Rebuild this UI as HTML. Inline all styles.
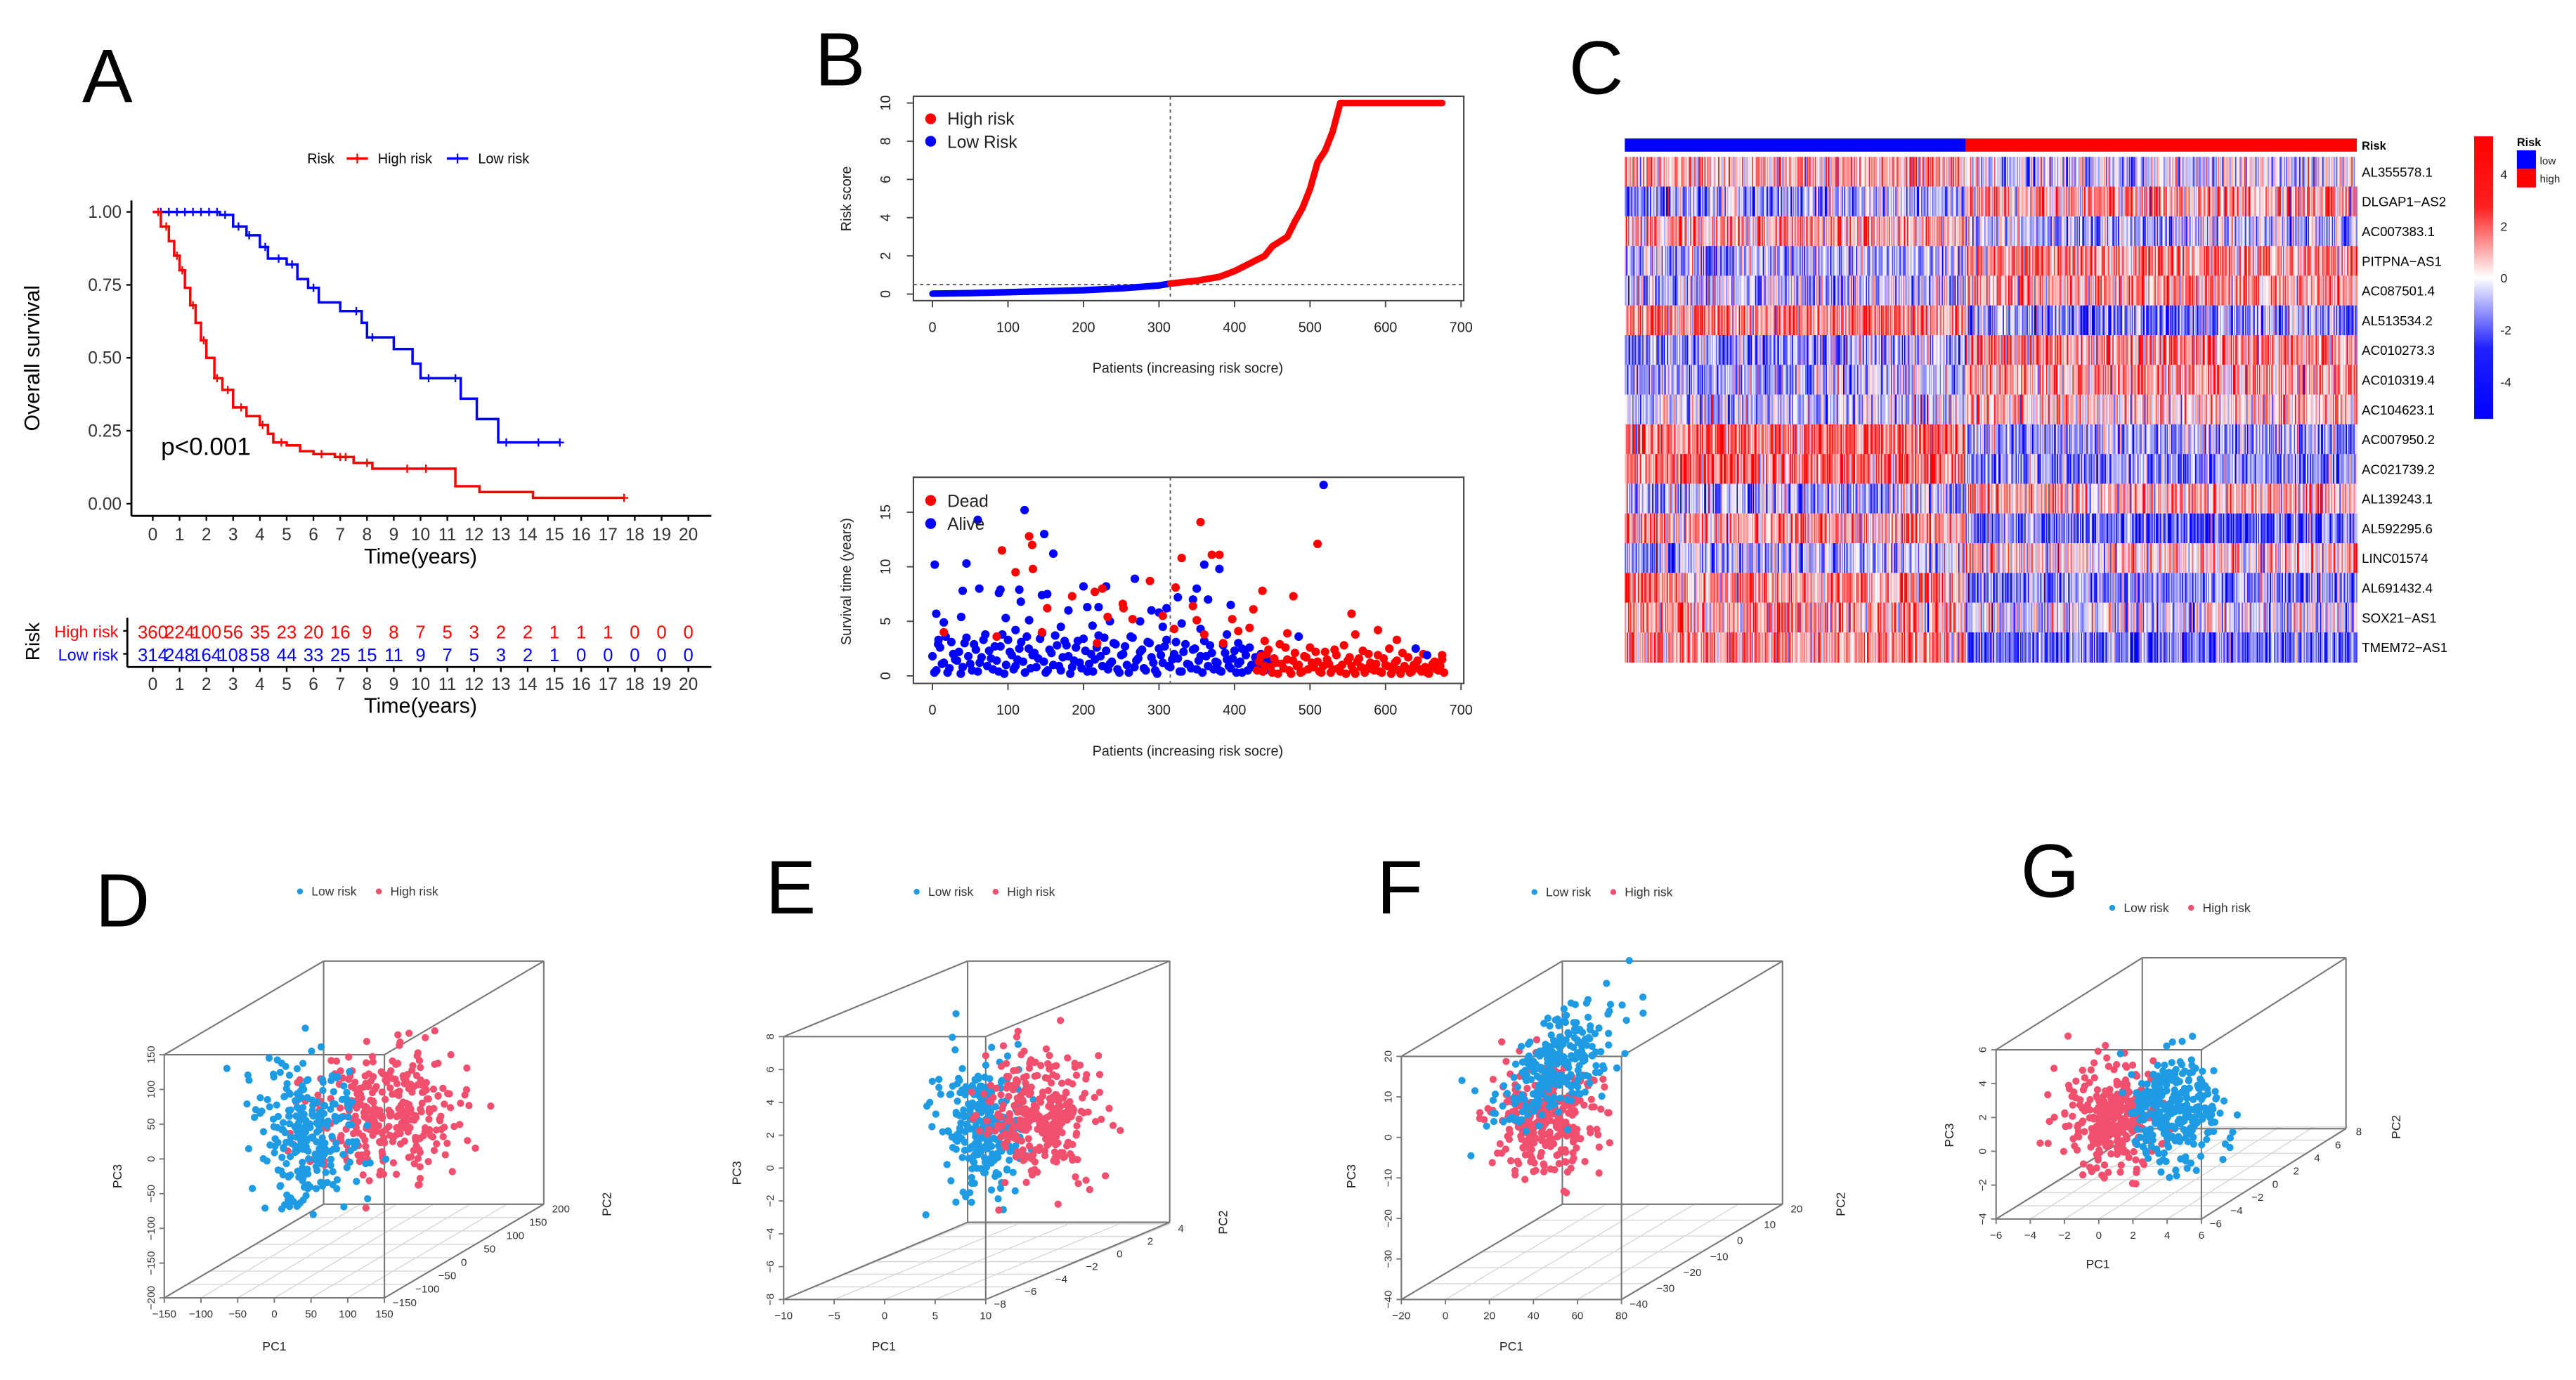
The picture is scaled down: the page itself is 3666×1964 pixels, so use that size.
<!DOCTYPE html>
<html><head><meta charset="utf-8">
<style>
html,body{margin:0;padding:0;background:#fff;}
svg{display:block;font-family:"Liberation Sans",Arial,sans-serif;}
</style></head>
<body>
<svg id="fig" xmlns="http://www.w3.org/2000/svg" width="3666" height="1964" viewBox="0 0 1568 840" preserveAspectRatio="none">
<rect x="0" y="0" width="1568" height="840" fill="#fff"/>
</svg>
<script>
// ---------- DATA ----------
// Panel A: Kaplan-Meier
const kmHighT=[0,0.3,0.6,0.8,1.0,1.2,1.4,1.6,1.8,2.0,2.3,2.6,3.0,3.5,4.0,4.3,4.5,5.0,5.5,6.0,6.8,7.5,8.2,11.1,11.3,12.2,14.2,17.6];
const kmHighS=[1,0.95,0.9,0.85,0.8,0.74,0.68,0.62,0.56,0.5,0.43,0.39,0.33,0.3,0.27,0.24,0.21,0.2,0.18,0.17,0.16,0.14,0.12,0.12,0.06,0.04,0.02,0.02];
const kmLowT=[0,1.5,2.5,3.0,3.5,4.0,4.3,5.0,5.4,5.8,6.2,7.0,7.8,8.0,9.0,9.7,10.0,11.5,12.1,12.9,15.2];
const kmLowS=[1,1,0.99,0.95,0.92,0.88,0.84,0.82,0.77,0.74,0.69,0.66,0.62,0.57,0.53,0.48,0.43,0.36,0.29,0.21,0.21];
const kmHighCens=[0.2,0.5,0.9,1.1,1.5,1.9,2.4,2.8,3.3,4.1,4.8,6.3,7.0,7.2,8.0,9.5,10.2,17.6];
const kmLowCens=[0.3,0.6,0.9,1.2,1.5,1.8,2.1,2.4,2.7,3.2,3.6,4.2,4.7,5.2,6.0,7.6,8.2,10.3,11.3,13.2,14.4,15.2];
const kmTicks=[0,1,2,3,4,5,6,7,8,9,10,11,12,13,14,15,16,17,18,19,20];
const kmYTicks=[0,0.25,0.5,0.75,1];
const kmYLabels=["0.00","0.25","0.50","0.75","1.00"];
const riskHigh=[360,224,100,56,35,23,20,16,9,8,7,5,3,2,2,1,1,1,0,0,0];
const riskLow=[314,248,164,108,58,44,33,25,15,11,9,7,5,3,2,1,0,0,0,0,0];
// Panel B: risk score curve
const rsIdx=[0,50,100,150,200,250,300,315,350,380,400,420,440,450,470,480,490,500,505,510,520,530,540,675];
const rsVal=[0.02,0.05,0.1,0.15,0.2,0.3,0.45,0.55,0.7,0.9,1.2,1.6,2.0,2.5,3.0,3.8,4.5,5.5,6.2,6.9,7.5,8.5,10,10];
const cutoffIdx=315, cutoffScore=0.5;
const bXTicks=[0,100,200,300,400,500,600,700];
const rsYTicks=[0,2,4,6,8,10];
const svYTicks=[0,5,10,15];
// Panel B: survival status
const aliveIdx=[3,5,8,15,40,38,45,60,62,88,90,97,110,115,117,122,128,145,148,152,160,170,180,200,205,212,220,230,235,268,275,290,300,305,310,325,330,345,350,355,360,365,380,390,395,405,410,485,518,640,655];
const aliveT=[10.2,5.7,3.3,4.9,7.8,5.4,10.3,14.3,8,7.6,7.9,5.3,4.2,7.9,6.8,15.2,5.1,7.4,13,7.5,11.2,4.5,6,8.2,6.3,4.6,6.3,8.2,5,8.9,5,6,5.8,4.5,6.2,7.2,4.8,7,8,4.3,10.2,7,9.8,3.8,6.5,3,2.5,3.6,17.5,2.5,1.9];
const deadIdx=[15,85,92,110,128,132,133,145,152,185,215,218,225,232,252,253,265,288,305,320,322,330,345,350,355,360,370,380,385,397,405,420,425,437,440,470,478,510,555,560,590,615,675];
const deadT=[4,3.6,11.5,9.5,12.8,12,9.8,4,6.2,7.3,7.7,3,8,5.4,6.6,6.2,5.2,8.7,5.5,4.3,8.1,10.8,6.4,5.1,14.1,3.8,11.1,11.1,3,5.2,4.1,4.4,6.1,7.8,3.2,3.9,7.3,12.1,5.7,3.8,4.2,3.3,1.9];
const aliveBandT=[1.8,0.5,2.6,1.2,0.3,3.1,1.5,2.2,0.8,3.5,1.1,2.9,0.4,1.7,3.8,2.3,0.6,1.4,2.7,0.2,3.3,1.9,0.9,2.5,1.3,3.6,0.7,2.1,1.6,3.9,0.3,2.4,1.0,2.8,0.5,3.2,1.8,0.8,2.6,1.2,3.4,0.4,2.0,1.5,3.7,0.9,2.3,1.1,3.0,0.6,1.9,2.7,0.3,3.5,1.4,2.2,0.7,3.1,1.7,0.5,2.5,1.2,3.3,0.8,2.0,1.6,0.4,2.9,1.0,2.4,0.6,1.8,3.2,0.9,2.1,1.3,0.5,2.8,1.5,0.7,2.3,1.1,0.3,1.9,2.6,0.8,1.4,2.0,0.5,1.2];
const aliveBandT2=[0.3,2.9,1.1,3.6,0.7,2.0,1.4,0.2,3.0,1.8,0.5,2.4,1.2,3.3,0.9,1.6,2.7,0.4,3.8,1.0,2.2,0.6,1.5,3.1,0.3,2.5,1.9,0.8,3.4,1.3,0.5,2.1,3.7,0.9,1.7,2.8,0.2,1.4,3.2,0.7,2.3,1.1,0.4,2.6,1.8,3.5,0.6,1.3,2.9,0.3,2.0,1.0,3.6,0.8,1.6,2.4,0.5,3.0,1.2,0.2,1.9,2.7,0.9,1.5,3.1,0.4,2.2,1.1,0.7,2.5,1.4,0.3,1.8,2.8,0.6,1.2,0.4,2.1,0.9,1.6,0.3,1.3,2.4,0.5,1.0,1.7,0.8,0.4,1.5,0.6];
const deadBandT=[0.5,1.8,0.9,2.4,0.3,1.2,2.9,0.7,1.5,0.2,2.1,1.0,0.4,1.7,2.6,0.8,1.3,0.3,2.2,1.1,0.6,1.9,0.4,2.8,1.4,0.9,0.2,1.6,2.3,0.7,1.2,0.5,1.9,0.3,1.0,2.5,0.6,1.4,0.2,0.9,1.7,0.4,1.1,0.6,2.0,0.3,0.8,1.3,0.5,1.5];
const deadBandT2=[1.3,0.4,2.0,0.8,1.6,0.2,1.1,2.6,0.5,1.4,0.9,0.3,1.8,0.6,1.2,2.2,0.4,0.9,1.5,0.3,2.4,0.7,1.0,0.2,1.7,0.5,1.3,0.8,0.3,2.0,0.6,1.1,0.4,1.6,0.9,0.2,1.2,0.5,2.1,0.7,0.3,1.0,1.4,0.4,0.8,0.2,1.1,0.6,0.9,0.3];
// Panel C: heatmap
const genes=["AL355578.1","DLGAP1\u2212AS2","AC007383.1","PITPNA\u2212AS1","AC087501.4","AL513534.2","AC010273.3","AC010319.4","AC104623.1","AC007950.2","AC021739.2","AL139243.1","AL592295.6","LINC01574","AL691432.4","SOX21\u2212AS1","TMEM72\u2212AS1"];
const meanLow=[0.8,-1,1,-0.8,-0.6,1.2,-1,-0.8,-0.5,1.5,1.5,-0.8,1,-0.8,1,0.8,1];
const meanHigh=[-0.3,1,-0.7,1.2,1,-1.2,1.2,1,0.6,-1,-1.2,0.8,-1.5,0.6,-1.2,-0.3,-1.5];
const nLow=314, nHigh=360;
const cbLabels=["4","2","0","-2","-4"];
const cbValues=[4,2,0,-2,-4];
// Panels D-G: PCA cluster descriptions (screen centre, spread, count) - texture
const pcaPanels=[
 {id:"d",letter:"D",lx:58,ly:564,front:[100,642,234,790],back:[197,585,331,733],
  pc3:["150","100","50","0","\u221250","\u2212100","\u2212150","\u2212200"],pc1:["\u2212150","\u2212100","\u221250","0","50","100","150"],pc2:["\u2212150","\u2212100","\u221250","0","50","100","150","200"],
  t1:[167,819],t3:[71,716],t2:[369,733],leg:[182.6,542.6],
  blue:{cx:187,cy:691,sx:15,sy:22,n:260},red:{cx:236,cy:678,sx:24,sy:19,n:320},redFirst:true},
 {id:"e",letter:"E",lx:466,ly:556,front:[477,631,600,791],back:[589,585,712,744],
  pc3:["8","6","4","2","0","\u22122","\u22124","\u22126","\u22128"],pc1:["\u221210","\u22125","0","5","10"],pc2:["\u22128","\u22126","\u22124","\u22122","0","2","4"],
  t1:[538,819],t3:[448,714],t2:[744,744],leg:[558,542.8],
  blue:{cx:597,cy:684,sx:12,sy:21,n:260},red:{cx:633,cy:678,sx:17,sy:18,n:320},redFirst:false},
 {id:"f",letter:"F",lx:838,ly:556,front:[853,643,987,791],back:[951,585,1085,733],
  pc3:["20","10","0","\u221210","\u221220","\u221230","\u221240"],pc1:["\u221220","0","20","40","60","80"],pc2:["\u221240","\u221230","\u221220","\u221210","0","10","20"],
  t1:[920,819],t3:[822,716],t2:[1120,733],leg:[934,543],
  blue:{cx:947,cy:647,sx:19,sy:15,n:260,rho:-0.6},red:{cx:940,cy:680,sx:16,sy:18,n:300},redFirst:true},
 {id:"g",letter:"G",lx:1230,ly:546,front:[1215,639,1340,742],back:[1304,583,1428,687],
  pc3:["6","4","2","0","\u22122","\u22124"],pc1:["\u22126","\u22124","\u22122","0","2","4","6"],pc2:["\u22126","\u22124","\u22122","0","2","4","6","8"],
  t1:[1277,769],t3:[1186,691],t2:[1458,686],leg:[1285.7,552.6],
  blue:{cx:1323,cy:676,sx:14,sy:16,n:300},red:{cx:1287,cy:682,sx:14,sy:16,n:300},redFirst:true}
];

// ---------- HELPERS ----------
const NS='http://www.w3.org/2000/svg';
const svg=document.getElementById('fig');
function mk(tag,attrs,parent){const e=document.createElementNS(NS,tag);for(const k in attrs)e.setAttribute(k,attrs[k]);(parent||svg).appendChild(e);return e;}
function txt(s,attrs,parent){const e=mk('text',attrs,parent);e.textContent=s;return e;}
function grp(name){const g=mk('g',{});return g;}
let seed=12345;
function rnd(){seed|=0;seed=seed+0x6D2B79F5|0;let t=Math.imul(seed^seed>>>15,1|seed);t=t+Math.imul(t^t>>>7,61|t)^t;return((t^t>>>14)>>>0)/4294967296;}
function gauss(){let u=rnd()||1e-9,v=rnd();return Math.sqrt(-2*Math.log(u))*Math.cos(2*Math.PI*v);}

// ---------- PANEL LETTERS ----------
[["A",50,62],["B",496,52],["C",955,57]].forEach(function(L){
  const t=txt(L[0],{x:L[1],y:L[2],'font-size':46,fill:'#000'});
  
  
});

// ---------- PANEL A ----------
(function(){
  const g=grp('km-plot');
  const xA=t=>93+t*16.3, yA=s=>306.6-s*177.6;
  mk('line',{x1:80,y1:122,x2:80,y2:314,stroke:'#000','stroke-width':1.2},g);
  mk('line',{x1:80,y1:314,x2:433,y2:314,stroke:'#000','stroke-width':1.2},g);
  kmYTicks.forEach(function(v,i){
    mk('line',{x1:77,y1:yA(v),x2:80,y2:yA(v),stroke:'#000','stroke-width':1},g);
    const t=txt(kmYLabels[i],{x:74,y:yA(v)+3.6,'font-size':10.5,'text-anchor':'end',fill:'#333'},g);
    
    
  });
  kmTicks.forEach(function(v){
    mk('line',{x1:xA(v),y1:314,x2:xA(v),y2:317,stroke:'#000','stroke-width':1},g);
    const t=txt(String(v),{x:xA(v),y:329,'font-size':10.5,'text-anchor':'middle',fill:'#333'},g);
    
    
  });
  const xt=txt('Time(years)',{x:256,y:343,'font-size':13,'text-anchor':'middle',fill:'#000'},g);
  
  
  const yt=txt('Overall survival',{x:0,y:0,'font-size':13,'text-anchor':'middle',fill:'#000',transform:'translate(24,218) rotate(-90)'},g);
  
  
  const pv=txt('p<0.001',{x:98,y:277,'font-size':15,fill:'#000'},g);
  
  
  function stepPath(T,S){let d='M'+xA(T[0])+' '+yA(S[0]);for(let i=1;i<T.length;i++){d+=' H'+xA(T[i])+' V'+yA(S[i]);}return d;}
  function sAt(T,S,t){let s=S[0];for(let i=0;i<T.length;i++){if(T[i]<=t)s=S[i];}return s;}
  [[kmLowT,kmLowS,kmLowCens,'#0000ff','low'],[kmHighT,kmHighS,kmHighCens,'#ff0000','high']].forEach(function(c){
    const p=mk('path',{d:stepPath(c[0],c[1]),fill:'none',stroke:c[3],'stroke-width':1.5},g);
    
    
    c[2].forEach(function(t){
      const x=xA(t),y=yA(sAt(c[0],c[1],t));
      const m=mk('path',{d:'M'+(x-2.5)+' '+y+'H'+(x+2.5)+'M'+x+' '+(y-2.5)+'V'+(y+2.5),stroke:c[3],'stroke-width':1},g);
      
      
    });
  });
  // legend
  const lg=grp('km-legend');
  txt('Risk',{x:187,y:99.5,'font-size':8.5,fill:'#000'},lg);
  mk('line',{x1:211,y1:96.5,x2:224,y2:96.5,stroke:'#ff0000','stroke-width':1.5},lg);
  mk('path',{d:'M217.5 93.5V99.5M214.5 96.5H220.5',stroke:'#ff0000','stroke-width':1},lg);
  txt('High risk',{x:230,y:99.5,'font-size':8.5,fill:'#000'},lg);
  mk('line',{x1:272,y1:96.5,x2:285,y2:96.5,stroke:'#0000ff','stroke-width':1.5},lg);
  mk('path',{d:'M278.5 93.5V99.5M275.5 96.5H281.5',stroke:'#0000ff','stroke-width':1},lg);
  txt('Low risk',{x:291,y:99.5,'font-size':8.5,fill:'#000'},lg);
  // risk table
  const tg=grp('risk-table');
  mk('line',{x1:77.5,y1:376,x2:77.5,y2:406,stroke:'#000','stroke-width':1.2},tg);
  mk('line',{x1:77.5,y1:406,x2:433,y2:406,stroke:'#000','stroke-width':1.2},tg);
  mk('line',{x1:75,y1:384,x2:77.5,y2:384,stroke:'#000'},tg);
  mk('line',{x1:75,y1:398,x2:77.5,y2:398,stroke:'#000'},tg);
  txt('High risk',{x:72,y:388,'font-size':10,'text-anchor':'end',fill:'#ff0000'},tg);
  txt('Low risk',{x:72,y:402,'font-size':10,'text-anchor':'end',fill:'#0000ff'},tg);
  const rk=txt('Risk',{x:0,y:0,'font-size':12,'text-anchor':'middle',fill:'#000',transform:'translate(24,390.5) rotate(-90)'},tg);
  
  
  kmTicks.forEach(function(v,i){
    txt(String(riskHigh[i]),{x:xA(v),y:388.5,'font-size':11,'text-anchor':'middle',fill:'#ff0000'},tg);
    txt(String(riskLow[i]),{x:xA(v),y:402.5,'font-size':11,'text-anchor':'middle',fill:'#0000ff'},tg);
    mk('line',{x1:xA(v),y1:406,x2:xA(v),y2:409,stroke:'#000'},tg);
    txt(String(v),{x:xA(v),y:420,'font-size':10.5,'text-anchor':'middle',fill:'#333'},tg);
  });
  txt('Time(years)',{x:256,y:434,'font-size':13,'text-anchor':'middle',fill:'#000'},tg);
})();

// ---------- PANEL B ----------
(function(){
  const xB=i=>567.6+i*0.4596;
  const yR=s=>179-s*11.63;
  const yS=t=>411.4-t*6.64;
  function frame(g,top,bot,yt,yfun,title,ytitleY){
    mk('rect',{x:556,y:top,width:335,height:bot-top,fill:'none',stroke:'#444','stroke-width':0.9},g);
    bXTicks.forEach(function(v){
      mk('line',{x1:xB(v),y1:bot,x2:xB(v),y2:bot+4,stroke:'#444','stroke-width':0.8},g);
      txt(String(v),{x:xB(v),y:bot+19,'font-size':8.5,'text-anchor':'middle',fill:'#222'},g);
    });
    yt.forEach(function(v){
      mk('line',{x1:552,y1:yfun(v),x2:556,y2:yfun(v),stroke:'#444','stroke-width':0.8},g);
      txt(String(v),{x:0,y:0,'font-size':8.5,'text-anchor':'middle',fill:'#222',transform:'translate(542,'+yfun(v)+') rotate(-90)'},g);
    });
    txt('Patients (increasing risk socre)',{x:723,y:bot+44,'font-size':8.5,'text-anchor':'middle',fill:'#222'},g);
    txt(title,{x:0,y:0,'font-size':8.5,'text-anchor':'middle',fill:'#222',transform:'translate(518,'+ytitleY+') rotate(-90)'},g);
    mk('line',{x1:xB(cutoffIdx),y1:top,x2:xB(cutoffIdx),y2:bot,stroke:'#555','stroke-width':0.8,'stroke-dasharray':'2,2'},g);
  }
  const g1=grp('risk-score-plot');
  frame(g1,58.6,183,rsYTicks,yR,'Risk score',121);
  mk('line',{x1:556,y1:yR(cutoffScore),x2:891,y2:yR(cutoffScore),stroke:'#555','stroke-width':0.8,'stroke-dasharray':'2,2'},g1);
  let dLow='',dHigh='';
  for(let i=0;i<rsIdx.length;i++){
    const pt=xB(rsIdx[i])+' '+yR(rsVal[i]);
    if(rsIdx[i]<=cutoffIdx) dLow+=(dLow?' L':'M')+pt;
    if(rsIdx[i]>=cutoffIdx) dHigh+=(dHigh?' L':'M')+pt;
  }
  const pl=mk('path',{d:dLow,fill:'none',stroke:'#0000ff','stroke-width':4,'stroke-linecap':'round','stroke-linejoin':'round'},g1);
  
  
  const ph=mk('path',{d:dHigh,fill:'none',stroke:'#ff0000','stroke-width':4,'stroke-linecap':'round','stroke-linejoin':'round'},g1);
  
  
  mk('circle',{cx:566.5,cy:72.3,r:3.3,fill:'#ff0000'},g1);
  txt('High risk',{x:576.6,y:76,'font-size':10.5,fill:'#222'},g1);
  mk('circle',{cx:566.5,cy:86,r:3.3,fill:'#0000ff'},g1);
  txt('Low Risk',{x:576.6,y:90,'font-size':10.5,fill:'#222'},g1);

  const g2=grp('survival-status-plot');
  frame(g2,290.5,416,svYTicks,yS,'Survival time (years)',354);
  function dot(i,t,col,name){const c=mk('circle',{cx:xB(i),cy:yS(t),r:2.6,fill:col},g2);}
  aliveBandT.forEach(function(t,k){dot(k*5,t,'#0000ff','alive-point');});
  aliveBandT2.forEach(function(t,k){dot(k*5+2.5,t,'#0000ff','alive-point');});
  deadBandT.forEach(function(t,k){dot(430+k*5,t,'#ff0000','dead-point');});
  deadBandT2.forEach(function(t,k){dot(432.5+k*5,t,'#ff0000','dead-point');});
  aliveIdx.forEach(function(i,k){dot(i,aliveT[k],'#0000ff','alive-point');});
  deadIdx.forEach(function(i,k){dot(i,deadT[k],'#ff0000','dead-point');});
  mk('circle',{cx:566.5,cy:304.6,r:3.3,fill:'#ff0000'},g2);
  txt('Dead',{x:576.6,y:308.5,'font-size':10.5,fill:'#222'},g2);
  mk('circle',{cx:566.5,cy:318.7,r:3.3,fill:'#0000ff'},g2);
  txt('Alive',{x:576.6,y:322.5,'font-size':10.5,fill:'#222'},g2);
})();

// ---------- PANEL C ----------
(function(){
  const g=grp('heatmap');
  const x0=989,x1=1434.6,top=95.5,rowH=(403-95.5)/genes.length;
  const N=nLow+nHigh,cw=(x1-x0)/N;
  const xCol=j=>x0+j*cw;
  const aLow=mk('rect',{x:x0,y:84.3,width:nLow*cw,height:8,fill:'#0000ff'},g);
  
  
  const aHigh=mk('rect',{x:xCol(nLow),y:84.3,width:nHigh*cw,height:8,fill:'#ff0000'},g);
  
  
  txt('Risk',{x:1437.6,y:91,'font-size':7,'font-weight':'bold',fill:'#000'},g);
  function col(v){const a=Math.max(-1,Math.min(1,v/2.6));
    if(a>=0){const k=Math.round(255*(1-a));return 'rgb(255,'+k+','+k+')';}
    const k=Math.round(255*(1+a));return 'rgb('+k+','+k+',255)';}
  seed=777;
  genes.forEach(function(name,r){
    for(let j=0;j<N;j++){
      const m=j<nLow?meanLow[r]:meanHigh[r];
      const v=m+gauss()*1.1;
      mk('rect',{x:xCol(j),y:top+r*rowH,width:cw+0.35,height:rowH+0.3,fill:col(v)},g);
    }
    const t=txt(name,{x:1437.6,y:top+r*rowH+rowH/2+3,'font-size':8,fill:'#000'},g);
    
    
  });
  // colour bar
  const cb=grp('heatmap-colorbar');
  const defs=mk('defs',{},cb);
  const lgd=mk('linearGradient',{id:'cbg',x1:0,y1:0,x2:0,y2:1},defs);
  [['0','#ff0000'],['0.25','#ff2020'],['0.5','#ffffff'],['0.75','#2020ff'],['1','#0000ff']].forEach(function(s){mk('stop',{offset:s[0],'stop-color':s[1]},lgd);});
  mk('rect',{x:1506,y:83,width:11.6,height:172,fill:'url(#cbg)'},cb);
  const cbY=v=>169-v*15.8;
  cbValues.forEach(function(v,i){txt(cbLabels[i],{x:1522,y:cbY(v)+3,'font-size':7.5,fill:'#222'},cb);});
  txt('Risk',{x:1532,y:89,'font-size':7,'font-weight':'bold',fill:'#000'},cb);
  mk('rect',{x:1532,y:91.5,width:11.6,height:11.3,fill:'#0000ff'},cb);
  mk('rect',{x:1532,y:102.8,width:11.6,height:11.3,fill:'#ff0000'},cb);
  txt('low',{x:1546,y:100,'font-size':6.5,fill:'#222'},cb);
  txt('high',{x:1546,y:111,'font-size':6.5,fill:'#222'},cb);
})();

// ---------- PANELS D-G ----------
pcaPanels.forEach(function(P,pi){
  const g=grp('pca-plot-'+P.id);
  const L=txt(P.letter,{x:P.lx,y:P.ly,'font-size':46,fill:'#000'});
  
  
  const f=P.front,b=P.back;
  const dx=b[0]-f[0],dy=b[1]-f[1];
  const gray='#777';
  // floor grid
  const n1=P.pc1.length,n2=P.pc2.length;
  for(let i=0;i<n1;i++){const x=f[0]+(f[2]-f[0])*i/(n1-1);mk('line',{x1:x,y1:f[3],x2:x+dx,y2:f[3]+dy,stroke:'#d6d6d6','stroke-width':0.6},g);}
  for(let i=0;i<n2;i++){const k=i/(n2-1);mk('line',{x1:f[0]+dx*k,y1:f[3]+dy*k,x2:f[2]+dx*k,y2:f[3]+dy*k,stroke:'#d6d6d6','stroke-width':0.6},g);}
  // box edges
  [[f[0],f[1],f[2],f[1]],[f[0],f[3],f[2],f[3]],[f[0],f[1],f[0],f[3]],[f[2],f[1],f[2],f[3]],
   [b[0],b[1],b[2],b[1]],[b[0],b[3],b[2],b[3]],[b[0],b[1],b[0],b[3]],[b[2],b[1],b[2],b[3]],
   [f[0],f[1],b[0],b[1]],[f[2],f[1],b[2],b[1]],[f[0],f[3],b[0],b[3]],[f[2],f[3],b[2],b[3]]].forEach(function(e){
    mk('line',{x1:e[0],y1:e[1],x2:e[2],y2:e[3],stroke:gray,'stroke-width':0.9},g);
  });
  // ticks
  const n3=P.pc3.length;
  P.pc3.forEach(function(s,i){const y=f[1]+(f[3]-f[1])*i/(n3-1);
    mk('line',{x1:f[0]-3,y1:y,x2:f[0],y2:y,stroke:gray,'stroke-width':0.8},g);
    txt(s,{x:0,y:0,'font-size':6.5,'text-anchor':'middle',fill:'#333',transform:'translate('+(f[0]-6)+','+y+') rotate(-90)'},g);});
  P.pc1.forEach(function(s,i){const x=f[0]+(f[2]-f[0])*i/(n1-1);
    mk('line',{x1:x,y1:f[3],x2:x,y2:f[3]+3,stroke:gray,'stroke-width':0.8},g);
    txt(s,{x:x,y:f[3]+12,'font-size':6.5,'text-anchor':'middle',fill:'#333'},g);});
  P.pc2.forEach(function(s,i){const k=i/(n2-1);
    txt(s,{x:f[2]+dx*k+5,y:f[3]+dy*k+5,'font-size':6.5,fill:'#333'},g);});
  txt('PC1',{x:P.t1[0],y:P.t1[1]+3,'font-size':7.5,'text-anchor':'middle',fill:'#222'},g);
  txt('PC3',{x:0,y:0,'font-size':7.5,'text-anchor':'middle',fill:'#222',transform:'translate('+(P.t3[0]+3)+','+P.t3[1]+') rotate(-90)'},g);
  txt('PC2',{x:0,y:0,'font-size':7.5,'text-anchor':'middle',fill:'#222',transform:'translate('+(P.t2[0]+3)+','+P.t2[1]+') rotate(-90)'},g);
  // legend
  const lg=grp('pca-legend-'+P.id);
  mk('circle',{cx:P.leg[0],cy:P.leg[1],r:1.8,fill:'#1e9be3'},lg);
  txt('Low risk',{x:P.leg[0]+7,y:P.leg[1]+2.6,'font-size':7.5,fill:'#333'},lg);
  mk('circle',{cx:P.leg[0]+48,cy:P.leg[1],r:1.8,fill:'#f0506e'},lg);
  txt('High risk',{x:P.leg[0]+55,y:P.leg[1]+2.6,'font-size':7.5,fill:'#333'},lg);
  // points
  seed=1000+pi*97;
  function cloud(c,color,name){
    for(let i=0;i<c.n;i++){
      const gx=gauss(),gy=gauss();
      const x=c.cx+gx*c.sx, y=c.cy+gy*c.sy+(c.rho||0)*gx*c.sx;
      const d=mk('circle',{cx:x,cy:y,r:2.2,fill:color},g);
      
      
    }
  }
  if(P.redFirst){cloud(P.red,'#f0506e','high-risk-point');cloud(P.blue,'#1e9be3','low-risk-point');}
  else{cloud(P.blue,'#1e9be3','low-risk-point');cloud(P.red,'#f0506e','high-risk-point');}
});
</script>
</body></html>
